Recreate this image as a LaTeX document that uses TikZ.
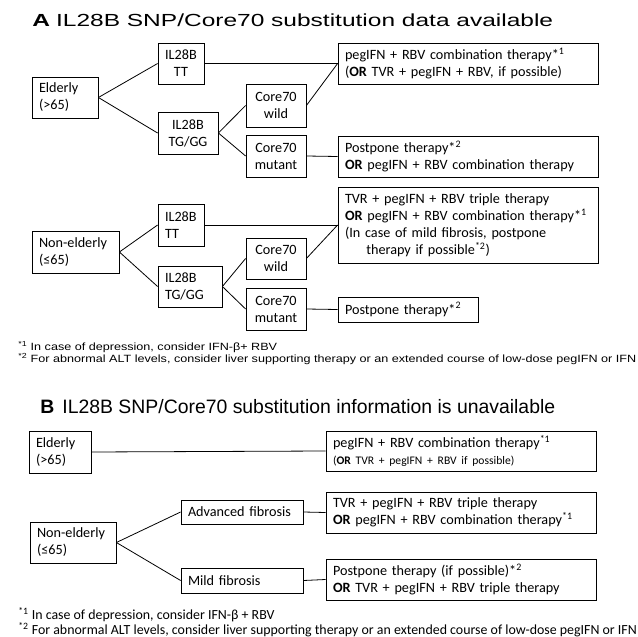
\documentclass[tikz,border=0pt]{standalone}
\usepackage{fontspec}
\setmainfont{Carlito}
\newfontfamily\arialfont{Liberation Sans}
\newfontfamily\widearial[FakeStretch=1.4]{Liberation Sans}
\newfontfamily\notearial[FakeStretch=1.2]{Liberation Sans}
\usepackage{tikz}

\begin{document}
\begin{tikzpicture}[x=1pt, y=-1pt, line width=0.8pt,
  box/.style={draw, inner xsep=7pt, inner ysep=0pt, font=\fontsize{14.2}{17}\selectfont},
  head/.style={anchor=base west, inner sep=0pt},
  noteA/.style={anchor=west, inner sep=0pt, font=\notearial\fontsize{10.5}{12}\selectfont},
  noteB/.style={anchor=west, inner sep=0pt, font=\fontsize{13.9}{15}\selectfont}]
  \useasboundingbox (0,0) rectangle (638,637);

  % panel A
  \node[head, font=\widearial\fontsize{17.5}{20}\selectfont] (headA) at (32,27) {\textbf{A}\hspace{6pt}IL28B SNP/Core70 substitution data available};

  \node[box, text width=52pt, minimum height=41pt, align=left] (eldA) at (65,97.5) {Elderly\\(>65)};
  \node[box, text width=32pt, minimum height=41pt, align=center] (ttA) at (181,63.5) {IL28B\\TT};
  \node[box, text width=46pt, minimum height=42pt, align=center] (tgA) at (188,133) {IL28B\\TG/GG};
  \node[box, text width=46pt, minimum height=43pt, align=center] (wildA) at (276,105.5) {Core70\\wild};
  \node[box, text width=46pt, minimum height=42pt, align=center] (mutA) at (276,156) {Core70\\mutant};
  \node[box, text width=246pt, minimum height=41pt, align=left] (resA) at (468,63.5)
    {pegIFN + RBV combination therapy*\textsuperscript{1}\\(\textbf{OR} TVR + pegIFN + RBV, if possible)};
  \node[box, text width=246pt, minimum height=41pt, align=left] (resB) at (468,156.5)
    {Postpone therapy*\textsuperscript{2}\\\textbf{OR} pegIFN + RBV combination therapy};

  \node[box, text width=73pt, minimum height=42pt, align=left] (nonA) at (75.5,252) {Non-elderly\\(≤65)};
  \node[box, text width=32pt, minimum height=42pt, align=left] (ttN) at (181,225) {IL28B\\TT};
  \node[box, text width=50pt, minimum height=41pt, align=left] (tgN) at (190,286.5) {IL28B\\TG/GG};
  \node[box, text width=46pt, minimum height=41pt, align=center] (wildN) at (276,258.5) {Core70\\wild};
  \node[box, text width=46pt, minimum height=42pt, align=center] (mutN) at (276,309) {Core70\\mutant};
  \node[box, text width=246pt, minimum height=76pt, align=left] (resC) at (468,225)
    {TVR + pegIFN + RBV triple therapy\\\textbf{OR} pegIFN + RBV combination therapy*\textsuperscript{1}\\(In case of mild fibrosis, postpone\\\hspace*{1.5em}therapy if possible\textsuperscript{*2})};
  \node[box, text width=126pt, minimum height=25pt, align=left] (resD) at (408,309.5) {Postpone therapy*\textsuperscript{2}};

  \draw (eldA.east) -- (ttA.west);
  \draw (eldA.east) -- (tgA.west);
  \draw (ttA.east) -- (resA.west);
  \draw (tgA.east) -- (wildA.west);
  \draw (tgA.east) -- (mutA.west);
  \draw (wildA.east) -- (resA.west);
  \draw (mutA.east) -- (resB.west);
  \draw (nonA.east) -- (ttN.west);
  \draw (nonA.east) -- (tgN.west);
  \draw (ttN.east) -- (resC.west);
  \draw (tgN.east) -- (wildN.west);
  \draw (tgN.east) -- (mutN.west);
  \draw (wildN.east) -- (resC.west);
  \draw (mutN.east) -- (resD.west);

  \node[noteA] (fnA1) at (18,347) {\textsuperscript{*1} In case of depression, consider IFN-β+ RBV};
  \node[noteA] (fnA2) at (18,359) {\textsuperscript{*2} For abnormal ALT levels, consider liver supporting therapy or an extended course of low-dose pegIFN or IFN};

  % panel B
  \node[head, font=\arialfont\fontsize{19.4}{22}\selectfont] (headB) at (40,413) {\textbf{B}\hspace{8pt}IL28B SNP/Core70 substitution information is unavailable};

  \node[box, text width=48pt, minimum height=42pt, align=left] (eldB) at (60,452) {Elderly\\(>65)};
  \node[box, text width=256pt, minimum height=40pt, align=left] (resE) at (461,451)
    {pegIFN + RBV combination therapy\textsuperscript{*1}\\{\fontsize{11.6}{14}\selectfont(\textbf{OR} TVR + pegIFN + RBV if possible)}};
  \node[box, text width=72pt, minimum height=41pt, align=left] (nonB) at (73,542.5) {Non-elderly\\(≤65)};
  \node[box, text width=108pt, minimum height=24pt, align=left] (advB) at (242,512) {Advanced fibrosis};
  \node[box, text width=108pt, minimum height=25pt, align=left] (mildB) at (242,580.5) {Mild fibrosis};
  \node[box, text width=256pt, minimum height=41pt, align=left] (resF) at (461,512.5)
    {TVR + pegIFN + RBV triple therapy\\\textbf{OR} pegIFN + RBV combination therapy\textsuperscript{*1}};
  \node[box, text width=256pt, minimum height=41pt, align=left] (resG) at (461,579.5)
    {Postpone therapy (if possible)*\textsuperscript{2}\\\textbf{OR} TVR + pegIFN + RBV triple therapy};

  \draw (eldB.east) -- (resE.west);
  \draw (nonB.east) -- (advB.west);
  \draw (nonB.east) -- (mildB.west);
  \draw (advB.east) -- (resF.west);
  \draw (mildB.east) -- (resG.west);

  \node[noteB] (fnB1) at (18,615) {\textsuperscript{*1} In case of depression, consider IFN-β + RBV};
  \node[noteB] (fnB2) at (18,630) {\textsuperscript{*2} For abnormal ALT levels, consider liver supporting therapy or an extended course of low-dose pegIFN or IFN};
\end{tikzpicture}
\end{document}
